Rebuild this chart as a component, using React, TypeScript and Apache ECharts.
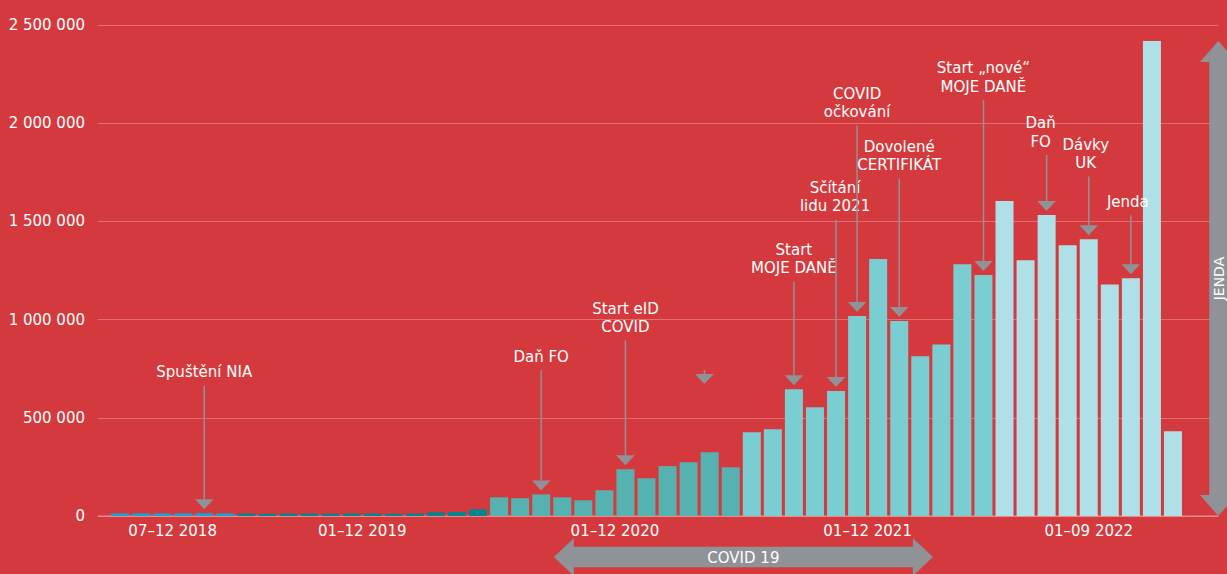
import { useEffect, useRef } from "react";
import * as echarts from "echarts";

// Monthly totals, July 2018 – September 2022
const months2018 = [13000, 13000, 13000, 13000, 14000, 13000]; // Jul–Dec
const months2019 = [12000, 11000, 12000, 12000, 11000, 12000, 12000, 11000, 12000, 19000, 20000, 34000];
const months2020 = [95000, 90000, 110000, 95000, 80000, 131000, 238000, 192000, 254000, 274000, 325000, 248000];
const months2021 = [426000, 442000, 646000, 554000, 636000, 1018000, 1308000, 993000, 813000, 873000, 1282000, 1227000];
const months2022 = [1604000, 1302000, 1532000, 1379000, 1409000, 1179000, 1211000, 2418000, 431000]; // Jan–Sep

const yearGroups = [months2018, months2019, months2020, months2021, months2022];
const periodLabels = ["07–12 2018", "01–12 2019", "01–12 2020", "01–12 2021", "01–09 2022"];
const yearColors = ["#13a4da", "#00868f", "#56b2b0", "#7acdd1", "#b0e0e7"];

// Events pointed at by arrows (month index counted from July 2018)
const calloutMonths = [4, 20, 24, 27.75, 32, 34, 35, 37, 41, 44, 46, 48];
const calloutTexts = [
  "Spuštění NIA",
  "Daň FO",
  "Start eID\nCOVID",
  "",
  "Start\nMOJE DANĚ",
  "Sčítání\nlidu 2021",
  "COVID\nočkování",
  "Dovolené\nCERTIFIKÁT",
  "Start „nové“\nMOJE DANĚ",
  "Daň\nFO",
  "Dávky\nUK",
  "Jenda",
];
// value level of each callout's last text line
const calloutLevels = [730000, 810000, 960000, 810000, 1260000, 1575000, 2055000, 1785000, 2185000, 1905000, 1795000, 1597000];
// arrow tip level when it does not point at a bar top
const calloutTipLevels: (number | null)[] = [null, null, null, 672000, null, null, null, null, null, null, null, null];
const calloutTextShift = [0, 0, 0, 0, 0, -1, 0, 0, 0, -6, -3, -3];

// COVID 19 period span, in month indices
const covidFrom = 20.6;
const covidTo = 38.6;

const BG = "#d43a3d";
const GREY = "#8f9296";
const FONT = "DejaVu Sans";

const allMonths: number[] = yearGroups.flat();

function groupCenters(): number[] {
  const centers: number[] = [];
  let start = 0;
  for (const g of yearGroups) {
    centers.push(start + (g.length - 1) / 2);
    start += g.length;
  }
  return centers;
}

function formatThousands(v: number): string {
  return String(Math.round(v)).replace(/\B(?=(\d{3})+(?!\d))/g, " ");
}

export default function App() {
  const ref = useRef<HTMLDivElement>(null);

  useEffect(() => {
    document.body.style.margin = "0";
    const el = ref.current!;
    const chart = echarts.init(el, undefined, { renderer: "svg" });

    const centers = groupCenters();
    const barData: any[] = [];
    let idx = 0;
    yearGroups.forEach((g, gi) => {
      g.forEach((v) => {
        barData.push({ value: [idx, v], itemStyle: { color: yearColors[gi] } });
        idx += 1;
      });
    });

    const calloutData = calloutMonths.map((m, i) => {
      const tip = calloutTipLevels[i] ?? allMonths[Math.round(m)];
      return [m, calloutLevels[i], tip];
    });

    const lineColor = "rgba(255,255,255,0.28)";

    chart.setOption({
      animation: false,
      backgroundColor: BG,
      textStyle: { fontFamily: FONT },
      grid: { left: 98, right: 9, top: 25, bottom: 58, containLabel: false },
      xAxis: {
        type: "value",
        min: -1.045,
        max: 52.137,
        splitLine: { show: false },
        axisTick: { show: false },
        axisLine: { show: true, lineStyle: { color: lineColor, width: 1.5 } },
        axisLabel: {
          customValues: centers,
          color: "#ffffff",
          fontSize: 15,
          fontFamily: FONT,
          margin: 7,
          formatter: (val: number) => {
            const k = centers.findIndex((c) => Math.abs(c - val) < 0.01);
            return k >= 0 ? periodLabels[k] : "";
          },
        },
      },
      yAxis: {
        type: "value",
        min: 0,
        max: 2500000,
        interval: 500000,
        axisLine: { show: false },
        axisTick: { show: false },
        splitLine: { show: true, lineStyle: { color: lineColor, width: 1 } },
        axisLabel: {
          color: "#ffffff",
          fontSize: 15,
          fontFamily: FONT,
          margin: 13,
          formatter: (v: number) => formatThousands(v),
        },
      },
      series: [
        {
          type: "bar",
          name: "months",
          barWidth: 18,
          data: barData,
          z: 2,
        },
        {
          type: "custom",
          name: "callouts",
          clip: false,
          z: 5,
          data: calloutData,
          encode: { x: 0, y: 1 },
          renderItem: (params: any, api: any) => {
            const i = params.dataIndex;
            const x = api.coord([api.value(0), 0])[0];
            const labelY = api.coord([0, api.value(1)])[1];
            const onBar = calloutTipLevels[i] == null;
            const tipY = api.coord([0, api.value(2)])[1] - (onBar ? 4 : 0);
            const headH = 10;
            const headW = 9.3;
            const children: any[] = [
              {
                type: "line",
                shape: { x1: x, y1: labelY + 13, x2: x, y2: tipY - headH },
                style: { stroke: GREY, lineWidth: 1.5 },
              },
              {
                type: "polygon",
                shape: {
                  points: [
                    [x - headW, tipY - headH],
                    [x + headW, tipY - headH],
                    [x, tipY],
                  ],
                },
                style: { fill: GREY },
              },
            ];
            if (calloutTexts[i]) {
              children.push({
                type: "text",
                style: {
                  text: calloutTexts[i],
                  x: x + calloutTextShift[i],
                  y: labelY + 9,
                  align: "center",
                  verticalAlign: "bottom",
                  textAlign: "center",
                  textVerticalAlign: "bottom",
                  lineHeight: 18.5,
                  fill: "#ffffff",
                  fontSize: 15,
                  fontFamily: FONT,
                },
              });
            }
            return { type: "group", children };
          },
        },
      ],
    });

    // Period arrows placed through the axes' scales
    const px = (v: number) => chart.convertToPixel({ xAxisIndex: 0 }, v) as number;
    const py = (v: number) => chart.convertToPixel({ yAxisIndex: 0 }, v) as number;

    const x0 = px(covidFrom);
    const x1 = px(covidTo);
    const yc = py(0) + 41;
    const hl = 20;
    const hh = 18.7;
    const sh = 10.3;

    const jx = px(52.137) + 0.3;
    const jTop = py(Math.max(...allMonths));
    const jBottom = py(0);
    const vl = 21;
    const vh = 18.3;
    const vs = 9;

    chart.setOption({
      graphic: [
        {
          type: "polygon",
          z: 10,
          shape: {
            points: [
              [x0, yc],
              [x0 + hl, yc - hh],
              [x0 + hl, yc - sh],
              [x1 - hl, yc - sh],
              [x1 - hl, yc - hh],
              [x1, yc],
              [x1 - hl, yc + hh],
              [x1 - hl, yc + sh],
              [x0 + hl, yc + sh],
              [x0 + hl, yc + hh],
            ],
          },
          style: { fill: GREY },
        },
        {
          type: "text",
          z: 11,
          style: {
            text: "COVID 19",
            x: (x0 + x1) / 2,
            y: yc + 1,
            align: "center",
            verticalAlign: "middle",
            textAlign: "center",
            textVerticalAlign: "middle",
            fill: "#ffffff",
            fontSize: 15,
            fontFamily: FONT,
          },
        },
        {
          type: "polygon",
          z: 10,
          shape: {
            points: [
              [jx, jTop],
              [jx + vh, jTop + vl],
              [jx + vs, jTop + vl],
              [jx + vs, jBottom - vl],
              [jx + vh, jBottom - vl],
              [jx, jBottom],
              [jx - vh, jBottom - vl],
              [jx - vs, jBottom - vl],
              [jx - vs, jTop + vl],
              [jx - vh, jTop + vl],
            ],
          },
          style: { fill: GREY },
        },
        {
          type: "text",
          z: 11,
          x: jx + 0.5,
          y: (jTop + jBottom) / 2,
          rotation: Math.PI / 2,
          style: {
            text: "JENDA",
            x: 0,
            y: 0,
            align: "center",
            verticalAlign: "middle",
            textAlign: "center",
            textVerticalAlign: "middle",
            lineHeight: 12,
            fill: "#ffffff",
            fontSize: 14,
            fontFamily: FONT,
          },
        },
      ],
    });

    return () => {
      chart.dispose();
    };
  }, []);

  return (
    <div
      ref={ref}
      style={{ position: "absolute", left: 0, top: 0, width: 1227, height: 574 }}
    />
  );
}
